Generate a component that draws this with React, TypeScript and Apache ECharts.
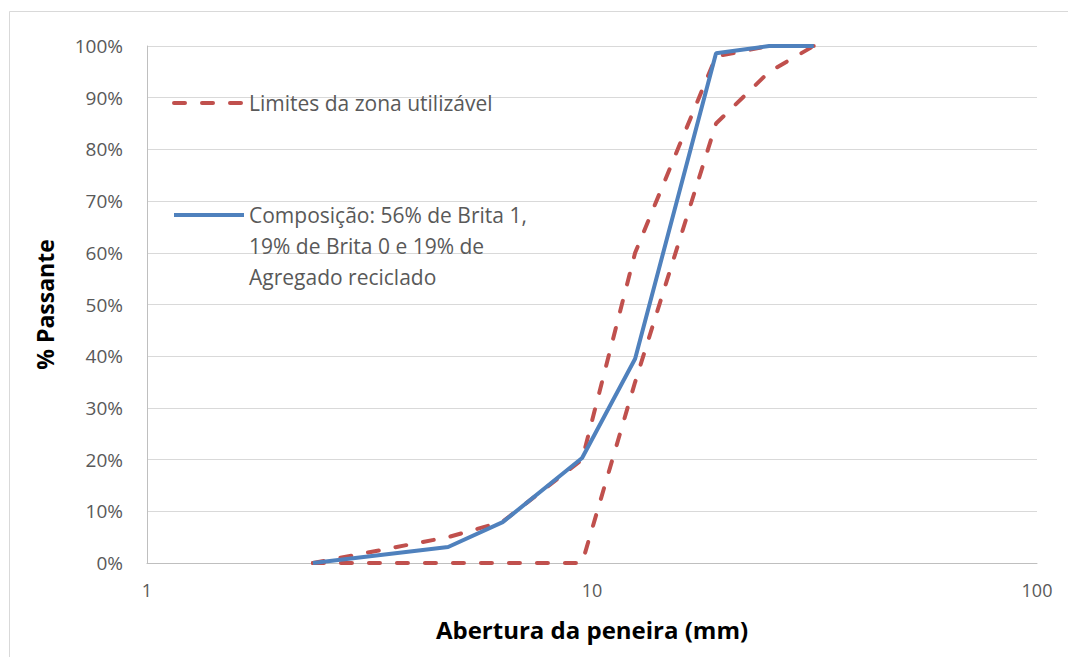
import React, { useEffect, useRef } from "react";
import * as echarts from "echarts";

const sieves = [2.36, 4.75, 6.3, 9.5, 12.5, 19, 25, 31.5];
const composition = [0, 3.1, 7.9, 20.3, 39.5, 98.6, 100, 100];
const upperLimit = [0, 5, 8, 20, 60, 98, 100, 100];
const lowerLimit = [0, 0, 0, 0, 35, 85, 95, 100];

const limitName = "Limites da zona utilizável";
const compName = "Composição: 56% de Brita 1,\n19% de Brita 0 e 19% de\nAgregado reciclado";
const xTitle = "Abertura da peneira (mm)";
const yTitle = "% Passante";

const FONT = "Open Sans";
const GRAY = "#595959";
const RED = "#c0504d";
const BLUE = "#4f81bd";

const pairs = (ys: number[]) => sieves.map((s, i) => [s, ys[i]]);

export default function App() {
  const ref = useRef<HTMLDivElement>(null);
  useEffect(() => {
    if (!ref.current) return;
    const chart = echarts.init(ref.current, null, { renderer: "svg" });
    const redLine = { color: RED, width: 4, type: [11, 17], cap: "round" };
    const legendBase = {
      left: 172,
      padding: 0,
      itemWidth: 70,
      itemHeight: 14,
      itemGap: 0,
      itemStyle: { opacity: 0 },
      lineStyle: { width: 4 },
      textStyle: { fontFamily: FONT, fontSize: 21, color: GRAY, lineHeight: 31 },
    };
    chart.setOption({
      animation: false,
      backgroundColor: "#fff",
      grid: { left: 147, right: 31, top: 46, bottom: 94, containLabel: false },
      graphic: [
        {
          type: "rect",
          shape: { x: 9.5, y: 11.5, width: 1070, height: 660 },
          style: { fill: "none", stroke: "#d9d9d9", lineWidth: 1 },
          silent: true,
        },
      ],
      legend: [
        { ...legendBase, data: [limitName], top: 87.5 },
        {
          ...legendBase,
          data: [compName],
          top: 137.5,
          formatter: (name: string) => "\n\n" + name,
        },
      ],
      xAxis: {
        type: "log",
        logBase: 10,
        min: 1,
        max: 100,
        name: xTitle,
        nameLocation: "middle",
        nameGap: 54,
        nameTextStyle: { fontFamily: FONT, fontSize: 24, fontWeight: "bold", color: "#000" },
        axisLine: { show: true, lineStyle: { color: "#bfbfbf", width: 1 } },
        axisTick: { show: false },
        splitLine: { show: false },
        minorTick: { show: false },
        axisLabel: { margin: 18, fontFamily: FONT, fontSize: 18, color: GRAY },
      },
      yAxis: {
        type: "value",
        min: 0,
        max: 100,
        interval: 10,
        name: yTitle,
        nameLocation: "middle",
        nameGap: 91,
        nameRotate: 90,
        nameTextStyle: { fontFamily: FONT, fontSize: 23, fontWeight: "bold", color: "#000" },
        axisLine: { show: true, lineStyle: { color: "#bfbfbf", width: 1 } },
        axisTick: { show: false },
        splitLine: { show: true, lineStyle: { color: "#d9d9d9", width: 1 } },
        axisLabel: { margin: 24, fontFamily: FONT, fontSize: 19, color: GRAY, formatter: "{value}%" },
      },
      series: [
        {
          name: limitName,
          type: "line",
          data: pairs(upperLimit),
          symbol: "none",
          lineStyle: redLine,
          itemStyle: { color: RED },
        },
        {
          name: limitName,
          type: "line",
          data: pairs(lowerLimit),
          symbol: "none",
          lineStyle: redLine,
          itemStyle: { color: RED },
        },
        {
          name: compName,
          type: "line",
          data: pairs(composition),
          symbol: "none",
          lineStyle: { color: BLUE, width: 4 },
          itemStyle: { color: BLUE },
        },
      ],
    });
    return () => chart.dispose();
  }, []);
  return (
    <div
      ref={ref}
      style={{ position: "fixed", left: 0, top: 0, width: 1068, height: 657 }}
    />
  );
}
